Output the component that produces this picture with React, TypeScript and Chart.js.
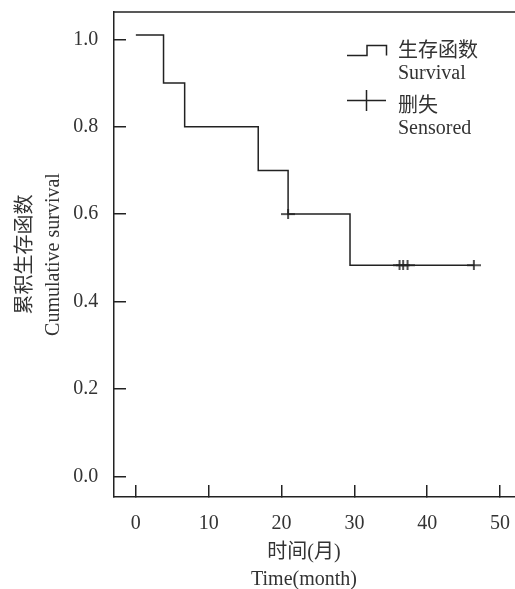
import React, { useEffect, useRef } from "react";
import { Chart, registerables } from "chart.js";

Chart.register(...registerables);

// ---- data ----
const survivalTimes = [0, 3.8, 6.7, 16.8, 20.9, 29.4, 46.4];
const survivalValues = [1.01, 0.9, 0.8, 0.7, 0.6, 0.483, 0.483];
const censoredTimes = [20.9, 36.2, 36.7, 37.3, 46.4];
const censoredValues = [0.6, 0.483, 0.483, 0.483, 0.483];
const xTicks = [0, 10, 20, 30, 40, 50];
const yTicks = [0, 0.2, 0.4, 0.6, 0.8, 1.0];
const xTitle = ["时间(月)", "Time(month)"];
const yTitle = ["累积生存函数", "Cumulative survival"];
const survivalLabel = ["生存函数", "Survival"];
const censoredLabel = ["删失", "Sensored"];

const FONT = '"Liberation Serif", "Times New Roman", "Noto Sans CJK SC", serif';
const LINE = "#222";
const TEXT = "#333";

function makeCross(w: number, h: number): HTMLCanvasElement {
  const c = document.createElement("canvas");
  c.width = w;
  c.height = h;
  const g = c.getContext("2d")!;
  g.strokeStyle = LINE;
  g.lineWidth = 1.6;
  g.beginPath();
  g.moveTo(0, h / 2);
  g.lineTo(w, h / 2);
  g.moveTo(w / 2, 0);
  g.lineTo(w / 2, h);
  g.stroke();
  return c;
}

const framePlugin = {
  id: "frameAndExtras",
  afterDraw(chart: any) {
    const { ctx, chartArea, width } = chart;
    ctx.save();
    // top frame line
    ctx.strokeStyle = LINE;
    ctx.lineWidth = 1.5;
    ctx.beginPath();
    ctx.moveTo(chartArea.left, chartArea.top);
    ctx.lineTo(width, chartArea.top);
    ctx.stroke();

    // x-axis title
    ctx.fillStyle = TEXT;
    ctx.font = `20px ${FONT}`;
    ctx.textAlign = "center";
    ctx.textBaseline = "middle";
    const cx = chartArea.left + 190;
    ctx.fillText(xTitle[0], cx, chartArea.bottom + 56);
    ctx.fillText(xTitle[1], cx, chartArea.bottom + 83);

    // legend
    const lx = chartArea.left + 233;
    const ly = chartArea.top;
    ctx.beginPath();
    ctx.moveTo(lx, ly + 43.5);
    ctx.lineTo(lx + 20, ly + 43.5);
    ctx.lineTo(lx + 20, ly + 33.5);
    ctx.lineTo(lx + 39.5, ly + 33.5);
    ctx.lineTo(lx + 39.5, ly + 43.5);
    ctx.stroke();
    ctx.beginPath();
    ctx.moveTo(lx, ly + 88.5);
    ctx.lineTo(lx + 39, ly + 88.5);
    ctx.moveTo(lx + 19.5, ly + 78);
    ctx.lineTo(lx + 19.5, ly + 99);
    ctx.stroke();

    ctx.textAlign = "left";
    const tx = lx + 51;
    ctx.fillText(survivalLabel[0], tx, ly + 40);
    ctx.fillText(survivalLabel[1], tx, ly + 61.5);
    ctx.fillText(censoredLabel[0], tx, ly + 95);
    ctx.fillText(censoredLabel[1], tx, ly + 117);
    ctx.restore();
  },
};

export default function App() {
  const ref = useRef<HTMLCanvasElement>(null);

  useEffect(() => {
    if (!ref.current) return;
    const cross = makeCross(14, 10);
    const chart = new Chart(ref.current, {
      type: "line",
      data: {
        datasets: [
          {
            label: survivalLabel.join(" "),
            data: survivalTimes.map((t, i) => ({ x: t, y: survivalValues[i] })),
            stepped: true,
            borderColor: LINE,
            borderWidth: 1.5,
            pointRadius: 0,
            fill: false,
          },
          {
            label: censoredLabel.join(" "),
            data: censoredTimes.map((t, i) => ({ x: t, y: censoredValues[i] })),
            showLine: false,
            pointStyle: cross as any,
            pointRadius: 5,
            borderColor: LINE,
            backgroundColor: LINE,
          },
        ],
      },
      options: {
        animation: false,
        responsive: false,
        devicePixelRatio: 1,
        layout: { autoPadding: false, padding: { top: 12, left: 0, right: 0, bottom: 0 } },
        plugins: { legend: { display: false }, tooltip: { enabled: false } },
        scales: {
          x: {
            type: "linear",
            min: -3,
            max: 52.05,
            afterBuildTicks: (s: any) => {
              s.ticks = xTicks.map((v) => ({ value: v }));
            },
            afterFit: (s: any) => {
              s.height = 92;
              s.paddingLeft = 0;
              s.paddingRight = 0;
              s.paddingTop = 0;
              s.paddingBottom = 0;
            },
            grid: {
              drawOnChartArea: false,
              drawTicks: true,
              tickLength: -12,
              color: LINE,
              lineWidth: 1.5,
            },
            border: { display: true, color: LINE, width: 1.5 },
            ticks: {
              autoSkip: false,
              maxRotation: 0,
              padding: 26.5,
              color: TEXT,
              font: { family: FONT, size: 20, lineHeight: 1.2 },
              callback: (v: any) => String(v),
            },
          },
          y: {
            type: "linear",
            min: -0.0474,
            max: 1.0625,
            afterBuildTicks: (s: any) => {
              s.ticks = yTicks.map((v) => ({ value: v }));
            },
            afterFit: (s: any) => {
              s.width = 114;
              s.paddingLeft = 0;
              s.paddingRight = 0;
              s.paddingTop = 0;
              s.paddingBottom = 0;
            },
            grid: {
              drawOnChartArea: false,
              drawTicks: true,
              tickLength: -12,
              color: LINE,
              lineWidth: 1.5,
            },
            border: { display: true, color: LINE, width: 1.5 },
            ticks: {
              autoSkip: false,
              padding: 27.7,
              color: TEXT,
              font: { family: FONT, size: 20, lineHeight: 1.2 },
              callback: (v: any) => Number(v).toFixed(1),
            },
            title: {
              display: true,
              text: yTitle,
              color: TEXT,
              font: { family: FONT, size: 20, lineHeight: 1.4 },
              padding: { top: 12, bottom: 0 },
            },
          },
        },
      },
      plugins: [framePlugin],
    });
    return () => chart.destroy();
  }, []);

  return (
    <div style={{ position: "absolute", left: 0, top: 0, width: 515, height: 589 }}>
      <canvas ref={ref} width={515} height={589} style={{ display: "block" }} />
    </div>
  );
}
